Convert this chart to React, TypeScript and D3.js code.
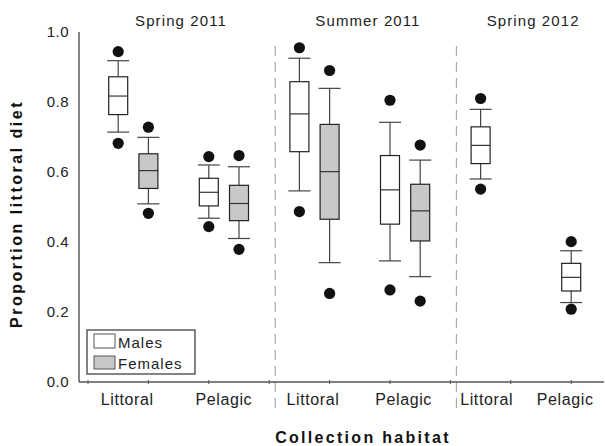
import React, { useEffect, useRef } from 'react';
import * as d3 from 'd3';

// Box positions along the x axis (slot units) and sex of each box
const boxSlot = [1, 2, 4, 5, 7, 8, 10, 11, 13, 16];
const boxSex = ['M', 'F', 'M', 'F', 'M', 'F', 'M', 'F', 'M', 'M'];

// Box statistics
const outlierHigh = [0.944, 0.728, 0.644, 0.647, 0.955, 0.89, 0.805, 0.677, 0.81, 0.401];
const whiskerHigh = [0.918, 0.699, 0.62, 0.615, 0.925, 0.839, 0.742, 0.634, 0.779, 0.375];
const q3 = [0.872, 0.652, 0.582, 0.562, 0.858, 0.736, 0.647, 0.565, 0.729, 0.339];
const median = [0.817, 0.604, 0.542, 0.51, 0.766, 0.601, 0.549, 0.489, 0.676, 0.299];
const q1 = [0.764, 0.553, 0.503, 0.461, 0.658, 0.465, 0.451, 0.403, 0.624, 0.26];
const whiskerLow = [0.714, 0.509, 0.468, 0.41, 0.546, 0.341, 0.346, 0.301, 0.58, 0.227];
const outlierLow = [0.682, 0.482, 0.444, 0.379, 0.487, 0.253, 0.263, 0.231, 0.551, 0.208];

const habitatLabels = ['Littoral', 'Pelagic', 'Littoral', 'Pelagic', 'Littoral', 'Pelagic'];
const habitatSlot = [1.3, 4.5, 7.45, 10.45, 13.2, 15.8];

const seasonLabels = ['Spring 2011', 'Summer 2011', 'Spring 2012'];
const seasonSlot = [3.08, 9.27, 14.74];
const dividerSlot = [6.2, 12.2];

const yTicks = [0, 0.2, 0.4, 0.6, 0.8, 1.0];
const xTicks = [0, 2, 4, 6, 8, 10, 12, 14, 16];

const width = 605;
const height = 446;
const font = '"Liberation Sans", Arial, sans-serif';

const App: React.FC = () => {
  const svgRef = useRef<SVGSVGElement>(null);

  useEffect(() => {
    document.body.style.margin = '0';
    const svg = d3.select(svgRef.current);
    svg.selectAll('*').remove();

    const x = d3.scaleLinear().domain([0, 1]).range([88, 118.2]);
    const y = d3.scaleLinear().domain([0, 1]).range([382, 32]);

    const boxW = 19;
    const capW = 22;

    // dashed dividers between seasons
    dividerSlot.forEach(d => {
      svg.append('line')
        .attr('x1', x(d)).attr('x2', x(d))
        .attr('y1', 46).attr('y2', 413)
        .attr('stroke', '#aaa')
        .attr('stroke-width', 1.2)
        .attr('stroke-dasharray', '10,6');
    });

    // axes
    svg.append('line')
      .attr('x1', 79).attr('x2', 79)
      .attr('y1', y(1)).attr('y2', y(0))
      .attr('stroke', '#444').attr('stroke-width', 1.3);
    svg.append('line')
      .attr('x1', 79).attr('x2', 604)
      .attr('y1', y(0)).attr('y2', y(0))
      .attr('stroke', '#555').attr('stroke-width', 1.3);

    xTicks.forEach(t => {
      svg.append('line')
        .attr('x1', x(t)).attr('x2', x(t))
        .attr('y1', y(0) - 2).attr('y2', y(0) + 2)
        .attr('stroke', '#555').attr('stroke-width', 1);
    });

    yTicks.forEach(t => {
      svg.append('text')
        .attr('x', 69)
        .attr('y', y(t))
        .attr('dy', '0.36em')
        .attr('text-anchor', 'end')
        .style('font-family', font)
        .style('font-size', '15px')
        .style('letter-spacing', '0.5px')
        .style('fill', '#222')
        .text(t.toFixed(1));
    });

    // boxes
    boxSlot.forEach((s, i) => {
      const cx = x(s);
      const g = svg.append('g');

      g.append('line')
        .attr('x1', cx).attr('x2', cx)
        .attr('y1', y(whiskerHigh[i])).attr('y2', y(q3[i]))
        .attr('stroke', '#444').attr('stroke-width', 1.2);
      g.append('line')
        .attr('x1', cx).attr('x2', cx)
        .attr('y1', y(q1[i])).attr('y2', y(whiskerLow[i]))
        .attr('stroke', '#444').attr('stroke-width', 1.2);

      [whiskerHigh[i], whiskerLow[i]].forEach(v => {
        g.append('line')
          .attr('x1', cx - capW / 2).attr('x2', cx + capW / 2)
          .attr('y1', y(v)).attr('y2', y(v))
          .attr('stroke', '#444').attr('stroke-width', 1.2);
      });

      g.append('rect')
        .attr('x', cx - boxW / 2)
        .attr('y', y(q3[i]))
        .attr('width', boxW)
        .attr('height', y(q1[i]) - y(q3[i]))
        .attr('fill', boxSex[i] === 'F' ? '#c8c8c8' : '#fff')
        .attr('stroke', '#222')
        .attr('stroke-width', 1.2);

      g.append('line')
        .attr('x1', cx - boxW / 2).attr('x2', cx + boxW / 2)
        .attr('y1', y(median[i])).attr('y2', y(median[i]))
        .attr('stroke', '#333').attr('stroke-width', 1.2);

      [outlierHigh[i], outlierLow[i]].forEach(v => {
        g.append('circle')
          .attr('cx', cx).attr('cy', y(v))
          .attr('r', 5.6)
          .attr('fill', '#111');
      });
    });

    // habitat labels
    habitatLabels.forEach((l, i) => {
      svg.append('text')
        .attr('x', x(habitatSlot[i]))
        .attr('y', 405)
        .attr('text-anchor', 'middle')
        .style('font-family', font)
        .style('font-size', '16px')
        .style('letter-spacing', '0.6px')
        .style('fill', '#222')
        .text(l);
    });

    // season titles
    seasonLabels.forEach((l, i) => {
      svg.append('text')
        .attr('x', x(seasonSlot[i]))
        .attr('y', 26)
        .attr('text-anchor', 'middle')
        .style('font-family', font)
        .style('font-size', '15px')
        .style('letter-spacing', '1.1px')
        .style('fill', '#222')
        .text(l);
    });

    // axis titles
    svg.append('text')
      .attr('x', 363)
      .attr('y', 443)
      .attr('text-anchor', 'middle')
      .style('font-family', font)
      .style('font-size', '16px')
      .style('font-weight', 'bold')
      .style('letter-spacing', '2.3px')
      .style('fill', '#111')
      .text('Collection habitat');

    svg.append('text')
      .attr('transform', 'translate(22,214) rotate(-90)')
      .attr('text-anchor', 'middle')
      .style('font-family', font)
      .style('font-size', '16px')
      .style('font-weight', 'bold')
      .style('letter-spacing', '2.5px')
      .style('fill', '#111')
      .text('Proportion littoral diet');

    // legend
    const legend = svg.append('g');
    legend.append('rect')
      .attr('x', 87).attr('y', 330)
      .attr('width', 108).attr('height', 44)
      .attr('fill', '#fff')
      .attr('stroke', '#333').attr('stroke-width', 1.2);

    const legendItems = [
      { label: 'Males', fill: '#fff', y: 334, h: 14, base: 348 },
      { label: 'Females', fill: '#c8c8c8', y: 356, h: 13, base: 369 }
    ];
    legendItems.forEach(item => {
      legend.append('rect')
        .attr('x', 94).attr('y', item.y)
        .attr('width', 21).attr('height', item.h)
        .attr('fill', item.fill)
        .attr('stroke', '#555').attr('stroke-width', 1);
      legend.append('text')
        .attr('x', 118)
        .attr('y', item.base)
        .style('font-family', font)
        .style('font-size', '15px')
        .style('letter-spacing', '1px')
        .style('fill', '#222')
        .text(item.label);
    });
  }, []);

  return <svg ref={svgRef} width={width} height={height} style={{ display: 'block', background: '#fff' }} />;
};

export default App;
